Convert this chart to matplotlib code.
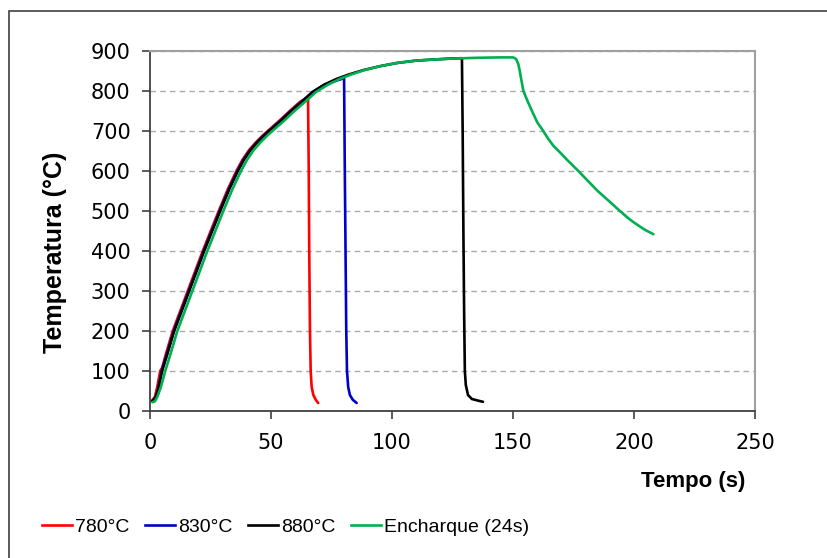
import matplotlib
matplotlib.use('Agg')
import matplotlib.pyplot as plt
from matplotlib.lines import Line2D
from matplotlib.patches import Rectangle

# 1 - Data

t_780 = [0.7, 2.0, 3.0, 3.6, 4.2, 5.0, 6.7, 9.4, 12.5, 15.6, 18.7, 21.8,
         25.1, 28.4, 32.2, 35.7, 38.2, 40.9, 43.8, 46.8, 49.6, 53.3, 57.4,
         61.8, 65.3, 65.6, 65.8, 66.1, 66.4, 66.8, 67.5, 68.5, 69.5]
T_780 = [25, 35, 60, 80, 100, 108, 145, 200, 250, 300, 350, 400,
         450, 500, 555, 600, 628, 652, 672, 690, 705, 725, 748,
         772, 785, 600, 400, 200, 100, 60, 40, 28, 20]

t_830 = [1.0, 2.2, 3.2, 4.8, 7.1, 9.8, 12.9, 16.0, 19.1, 22.2, 25.5, 28.8,
         32.6, 36.1, 38.6, 41.3, 44.2, 47.2, 50.0, 53.8, 57.8, 62.4, 67.2,
         72.0, 76.5, 80.2, 80.5, 80.8, 81.1, 81.4, 81.9, 82.6, 83.8, 85.4]
T_830 = [25, 32, 50, 100, 145, 200, 250, 300, 350, 400, 450, 500,
         555, 600, 628, 652, 672, 690, 705, 725, 748, 772, 798,
         815, 825, 832, 600, 400, 200, 100, 60, 40, 28, 20]

t_880 = [1.0, 2.2, 3.2, 5.0, 7.3, 10.0, 13.1, 16.2, 19.3, 22.4, 25.7, 29.0,
         32.8, 36.3, 38.8, 41.5, 44.4, 47.4, 50.2, 54.0, 58.0, 62.6, 67.4,
         72.0, 77.0, 82.0, 88.0, 95.0, 102, 110, 118, 124, 128.9,
         129.2, 129.5, 129.8, 130.1, 130.5, 131.4, 133.0, 135.5, 137.6]
T_880 = [25, 32, 50, 100, 145, 200, 250, 300, 350, 400, 450, 500,
         555, 600, 628, 652, 672, 690, 705, 725, 748, 772, 798,
         816, 830, 841, 852, 862, 870, 876, 879, 881, 882,
         700, 450, 250, 100, 65, 40, 30, 26, 23]

t_soak = [1.0, 2.0, 3.0, 4.5, 6.3, 8.6, 11.3, 14.4, 17.5, 20.6, 23.7, 27.0,
          30.3, 34.1, 37.6, 40.1, 42.8, 45.7, 48.7, 51.5, 55.3, 59.3, 63.9,
          68.7, 73.3, 78.3, 83.0, 88.5, 95.0, 102, 110, 118, 125, 135, 145,
          150.1, 151.3, 152.2, 152.8, 153.2, 154.3, 156.0, 158.0, 160.0,
          162.5, 164.5, 166.7, 169.5, 172.0, 177.0, 181.0, 185.0, 190.0,
          194.2, 198.0, 201.0, 204.5, 208.0]
T_soak = [22, 24, 35, 60, 100, 145, 200, 250, 300, 350, 400, 450,
          500, 555, 600, 628, 652, 672, 690, 705, 725, 748, 772,
          798, 815, 830, 841, 852, 862, 870, 876, 879, 881, 883, 884,
          884, 880, 867, 850, 836, 800, 775, 748, 722,
          700, 681, 663, 646, 630, 600, 575, 550, 523,
          500, 480, 467, 453, 442]

labels = ['780°C', '830°C', '880°C', 'Encharque (24s)']
colors = ['#ff0000', '#0000cc', '#000000', '#00b050']

# 2 - Plot

fig = plt.figure(figsize=(8.27, 5.58), dpi=100)
ax = fig.add_axes([150/827, 1 - 411/558, 605/827, 360/558])

series = [(t_780, T_780), (t_830, T_830), (t_880, T_880), (t_soak, T_soak)]
for (xs, ys), c, lab in zip(series, colors, labels):
    ax.plot(xs, ys, color=c, lw=1.9, label=lab,
            solid_joinstyle='round', solid_capstyle='round')

ax.set_xlim(0, 250)
ax.set_ylim(0, 900)
ax.set_xticks(range(0, 251, 50))
ax.set_yticks(range(0, 901, 100))
ax.tick_params(direction='out', length=6, width=1.2, color='#404040',
               labelsize=15, pad=8)
ax.tick_params(axis='x', pad=10)

ax.grid(axis='y', ls=(0, (4, 3)), color='#aaaaaa', lw=1)
ax.set_axisbelow(True)
for s in ['left', 'bottom']:
    ax.spines[s].set_color('#404040')
    ax.spines[s].set_linewidth(1.3)
for s in ['top', 'right']:
    ax.spines[s].set_color('#a0a0a0')
    ax.spines[s].set_linewidth(1.5)

# axis titles
fig.text(745/827, 1 - 482/558, 'Tempo (s)', ha='right', va='center',
         fontsize=16, fontweight='bold', family='Liberation Sans')
fig.text(55/827, 1 - 252/558, 'Temperatura (°C)', ha='center', va='center',
         rotation=90, fontsize=18, fontweight='bold', family='Liberation Sans')

# legend along the bottom
handles = [Line2D([], [], color=c, lw=1.9) for c in colors]
fig.legend(handles, labels, loc='center left',
           bbox_to_anchor=(42/827, 1 - 527/558), ncol=4, frameon=False,
           borderpad=0, borderaxespad=0, handlelength=1.55,
           handletextpad=0.15, columnspacing=0.8,
           prop={'family': 'Liberation Sans', 'size': 14})

# outer chart border
fig.patches.append(Rectangle((9/827, -0.1), 1.2, 1 - 11/558 + 0.1,
                             transform=fig.transFigure, fill=False,
                             ec='#404040', lw=1.2))

plt.savefig('out.png', dpi=100)
